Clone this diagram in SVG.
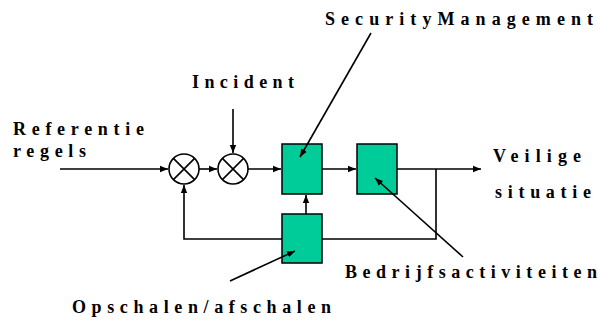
<svg xmlns="http://www.w3.org/2000/svg" width="598" height="320" viewBox="0 0 598 320">
<style>
.t{font-family:"Liberation Serif","Times New Roman",serif;font-weight:bold;font-size:18px;fill:#000}
.box{fill:#00CC99;stroke:#000;stroke-width:1.5}
.ln{fill:none;stroke:#000;stroke-width:1.6}
.ci{fill:#fff;stroke:#000;stroke-width:1.6}
</style>
<defs>
<marker id="ah" markerUnits="userSpaceOnUse" markerWidth="9" markerHeight="8" refX="8" refY="4" orient="auto">
<path d="M0,0.8 L8,4 L0,7.2 Z" fill="#000"/>
</marker>
</defs>
<rect width="598" height="320" fill="#fff"/>
<g id="connectors">
<path class="ln" d="M60,169 H168" marker-end="url(#ah)"/>
<path class="ln" d="M199,169 H217" marker-end="url(#ah)"/>
<path class="ln" d="M233,109 V153" marker-end="url(#ah)"/>
<path class="ln" d="M248,169 H281" marker-end="url(#ah)"/>
<path class="ln" d="M322,169 H356" marker-end="url(#ah)"/>
<path class="ln" d="M397,169 H481" marker-end="url(#ah)"/>
<path class="ln" d="M436,169 V239 H322"/>
<path class="ln" d="M282,239 H184 V185" marker-end="url(#ah)"/>
<path class="ln" d="M306,214 V195" marker-end="url(#ah)"/>
</g>
<g id="sum1">
<circle class="ci" cx="184" cy="169" r="15"/>
<path class="ln" d="M173.4,158.4 L194.6,179.6 M194.6,158.4 L173.4,179.6"/>
</g>
<g id="sum2">
<circle class="ci" cx="233" cy="169" r="15"/>
<path class="ln" d="M222.4,158.4 L243.6,179.6 M243.6,158.4 L222.4,179.6"/>
</g>
<g id="security"><rect class="box" x="282" y="144" width="40" height="50"/></g>
<g id="bedrijf"><rect class="box" x="357" y="144" width="40" height="50"/></g>
<g id="opschalen"><rect class="box" x="282" y="214" width="40" height="49"/></g>
<g id="pointers">
<path class="ln" d="M371,33 L300,157" marker-end="url(#ah)"/>
<path class="ln" d="M463,257 L375,178" marker-end="url(#ah)"/>
<path class="ln" d="M230,281 L295,251" marker-end="url(#ah)"/>
</g>
<g id="labels">
<text class="t" x="13" y="135" textLength="131" lengthAdjust="spacing">Referentie</text>
<text class="t" x="13" y="157" textLength="73" lengthAdjust="spacing">regels</text>
<text class="t" x="192" y="88" textLength="102" lengthAdjust="spacing">Incident</text>
<text class="t" x="325" y="25" textLength="268" lengthAdjust="spacing">SecurityManagement</text>
<text class="t" x="345" y="278" textLength="252" lengthAdjust="spacing">Bedrijfsactiviteiten</text>
<text class="t" x="72" y="313" textLength="259" lengthAdjust="spacing">Opschalen/afschalen</text>
<text class="t" x="493" y="162" textLength="88" lengthAdjust="spacing">Veilige</text>
<text class="t" x="495" y="198" textLength="96" lengthAdjust="spacing">situatie</text>
</g>
</svg>
